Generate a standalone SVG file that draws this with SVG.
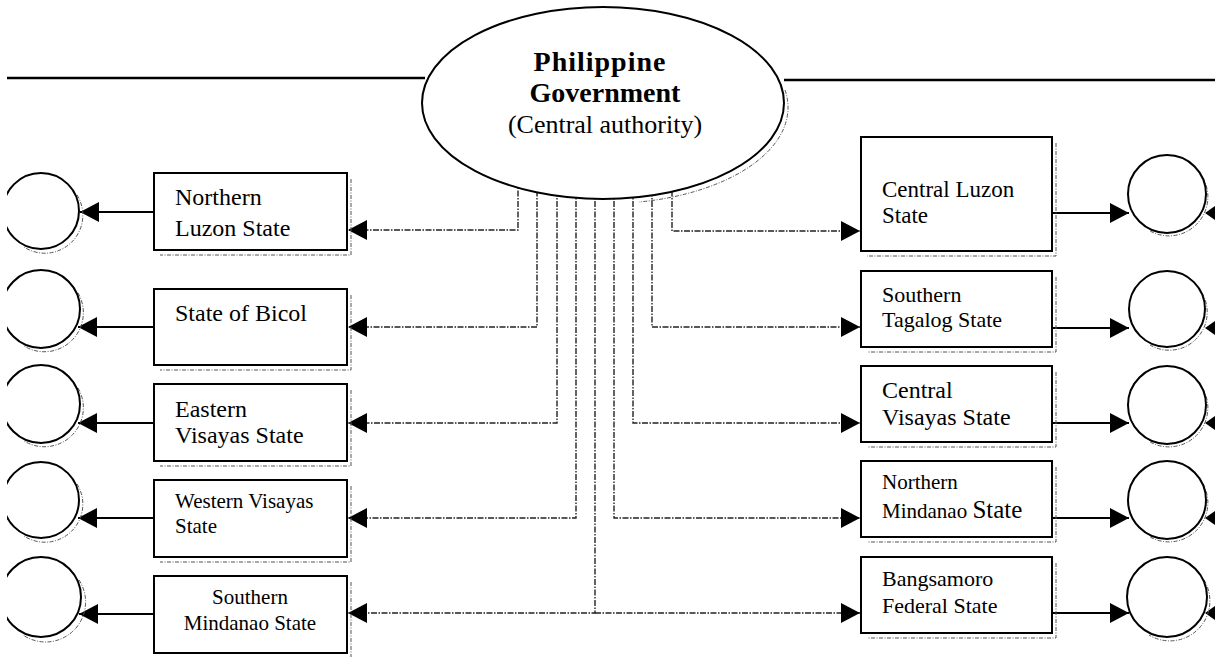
<svg xmlns="http://www.w3.org/2000/svg" width="1222" height="657" viewBox="0 0 1222 657">
  <defs>
    <marker id="head" viewBox="0 0 19 20" refX="19" refY="10" markerWidth="19" markerHeight="20" markerUnits="userSpaceOnUse" orient="auto">
      <path d="M0,0 L19,10 L0,20 Z" fill="#000"/>
    </marker>
    <clipPath id="page">
      <rect x="7" y="0" width="1208" height="657"/>
    </clipPath>
    <style>
      .box { fill: #fff; stroke: #000; stroke-width: 2; }
      .ring { fill: #fff; stroke: #000; stroke-width: 2; }
      .shade { fill: none; stroke: #555; stroke-width: 1; stroke-dasharray: 4 1.5 1 1.5; }
      .link { fill: none; stroke: #222; stroke-width: 1.4; stroke-dasharray: 6 1.5 1.5 1.5; }
      .out { fill: none; stroke: #000; stroke-width: 2; }
      .rule { fill: none; stroke: #000; stroke-width: 2.5; }
      .lbl { font-family: "Liberation Serif", "Times New Roman", serif; fill: #000; }
      .title { font-family: "Liberation Serif", "Times New Roman", serif; fill: #000; text-anchor: middle; }
    </style>
  </defs>

  <g clip-path="url(#page)">
    <!-- top rule either side of the central authority -->
    <g id="rule">
      <line class="rule" x1="7" y1="78" x2="425" y2="78"/>
      <line class="rule" x1="784" y1="80" x2="1215" y2="80"/>
    </g>

    <!-- dashed links from the central authority to each state -->
    <g id="connectors">
      <path class="link" d="M518,180 V230 H348" marker-end="url(#head)"/>
      <path class="link" d="M537,180 V327 H348" marker-end="url(#head)"/>
      <path class="link" d="M557,180 V423 H348" marker-end="url(#head)"/>
      <path class="link" d="M576,180 V518 H348" marker-end="url(#head)"/>
      <path class="link" d="M595,180 V613 H348" marker-end="url(#head)"/>
      <path class="link" d="M595,613 H860" marker-end="url(#head)"/>
      <path class="link" d="M614,180 V518 H860" marker-end="url(#head)"/>
      <path class="link" d="M633,180 V423 H860" marker-end="url(#head)"/>
      <path class="link" d="M652,180 V327 H860" marker-end="url(#head)"/>
      <path class="link" d="M672,180 V231 H860" marker-end="url(#head)"/>

      <!-- solid arrows from each state to its circle -->
      <path class="out" d="M154,212 H80" marker-end="url(#head)"/>
      <path class="out" d="M154,327 H78" marker-end="url(#head)"/>
      <path class="out" d="M154,423 H78" marker-end="url(#head)"/>
      <path class="out" d="M154,518 H78" marker-end="url(#head)"/>
      <path class="out" d="M154,614 H79" marker-end="url(#head)"/>
      <path class="out" d="M1052,213 H1129" marker-end="url(#head)"/>
      <path class="out" d="M1052,328 H1129" marker-end="url(#head)"/>
      <path class="out" d="M1052,423 H1129" marker-end="url(#head)"/>
      <path class="out" d="M1052,518 H1129" marker-end="url(#head)"/>
      <path class="out" d="M1052,613 H1129" marker-end="url(#head)"/>

      <!-- arrow tips entering the right-hand circles from beyond the edge -->
      <path d="M1205,213 L1215,206 L1215,220 Z" fill="#000"/>
      <path d="M1205,328 L1215,321 L1215,335 Z" fill="#000"/>
      <path d="M1205,423 L1215,416 L1215,430 Z" fill="#000"/>
      <path d="M1205,518 L1215,511 L1215,525 Z" fill="#000"/>
      <path d="M1205,613 L1215,606 L1215,620 Z" fill="#000"/>
    </g>

    <!-- central authority -->
    <g id="central">
      <path class="shade" d="M785,90 A181,96 0 0 1 639,202"/>
      <ellipse cx="603" cy="103" rx="181" ry="96" fill="#fff" stroke="#000" stroke-width="2"/>
      <text class="title" x="600" y="71" font-size="28" font-weight="bold" letter-spacing="1">Philippine</text>
      <text class="title" x="605" y="102" font-size="28" font-weight="bold">Government</text>
      <text class="title" x="605" y="133" font-size="26">(Central authority)</text>
    </g>

    <!-- left-hand states -->
    <g id="northern-luzon">
      <path class="shade" d="M351,179 V255 H160"/>
      <rect class="box" x="154" y="173" width="193" height="77"/>
      <text class="lbl" x="175" y="205" font-size="24">Northern</text>
      <text class="lbl" x="175" y="236" font-size="24">Luzon State</text>
    </g>
    <g id="bicol">
      <path class="shade" d="M351,295 V370 H160"/>
      <rect class="box" x="154" y="289" width="193" height="76"/>
      <text class="lbl" x="175" y="321" font-size="24">State of Bicol</text>
    </g>
    <g id="eastern-visayas">
      <path class="shade" d="M351,390 V466 H160"/>
      <rect class="box" x="154" y="384" width="193" height="77"/>
      <text class="lbl" x="175" y="417" font-size="24">Eastern</text>
      <text class="lbl" x="175" y="443" font-size="24">Visayas State</text>
    </g>
    <g id="western-visayas">
      <path class="shade" d="M351,486 V562 H160"/>
      <rect class="box" x="154" y="480" width="193" height="77"/>
      <text class="lbl" x="175" y="508" font-size="21">Western Visayas</text>
      <text class="lbl" x="175" y="533" font-size="21">State</text>
    </g>
    <g id="southern-mindanao">
      <path class="shade" d="M351,582 V658 H160"/>
      <rect class="box" x="154" y="576" width="193" height="77"/>
      <text class="lbl" x="250" y="604" font-size="21" text-anchor="middle">Southern</text>
      <text class="lbl" x="250" y="630" font-size="21" text-anchor="middle">Mindanao State</text>
    </g>

    <!-- right-hand states -->
    <g id="central-luzon">
      <path class="shade" d="M1056,143 V256 H867"/>
      <rect class="box" x="861" y="137" width="191" height="114"/>
      <text class="lbl" x="882" y="197" font-size="23">Central Luzon</text>
      <text class="lbl" x="882" y="223" font-size="23">State</text>
    </g>
    <g id="southern-tagalog">
      <path class="shade" d="M1056,277 V352 H867"/>
      <rect class="box" x="861" y="271" width="191" height="76"/>
      <text class="lbl" x="882" y="302" font-size="22">Southern</text>
      <text class="lbl" x="882" y="327" font-size="22">Tagalog State</text>
    </g>
    <g id="central-visayas">
      <path class="shade" d="M1056,372 V447 H867"/>
      <rect class="box" x="861" y="366" width="191" height="76"/>
      <text class="lbl" x="882" y="398" font-size="24">Central</text>
      <text class="lbl" x="882" y="425" font-size="24">Visayas State</text>
    </g>
    <g id="northern-mindanao">
      <path class="shade" d="M1056,467 V542 H867"/>
      <rect class="box" x="861" y="461" width="191" height="76"/>
      <text class="lbl" x="882" y="489" font-size="21">Northern</text>
      <text class="lbl" x="882" y="518" font-size="21">Mindanao <tspan font-size="25">State</tspan></text>
    </g>
    <g id="bangsamoro">
      <path class="shade" d="M1056,563 V638 H867"/>
      <rect class="box" x="861" y="557" width="191" height="76"/>
      <text class="lbl" x="882" y="586" font-size="22">Bangsamoro</text>
      <text class="lbl" x="882" y="613" font-size="22">Federal State</text>
    </g>

    <!-- left-hand circles -->
    <g id="circle-l1">
      <path class="shade" d="M77,195 A38,38 0 0 1 24,247"/>
      <circle class="ring" cx="41" cy="211" r="38"/>
    </g>
    <g id="circle-l2">
      <path class="shade" d="M78,293 A39,39 0 0 1 24,346"/>
      <circle class="ring" cx="41" cy="309" r="39"/>
    </g>
    <g id="circle-l3">
      <path class="shade" d="M78,388 A39,39 0 0 1 24,441"/>
      <circle class="ring" cx="41" cy="404" r="39"/>
    </g>
    <g id="circle-l4">
      <path class="shade" d="M77,484 A38,38 0 0 1 24,536"/>
      <circle class="ring" cx="41" cy="500" r="38"/>
    </g>
    <g id="circle-l5">
      <path class="shade" d="M79,580 A40,40 0 0 1 23,635"/>
      <circle class="ring" cx="41" cy="597" r="40"/>
    </g>

    <!-- right-hand circles -->
    <g id="circle-r1">
      <path class="shade" d="M1203,178 A39,39 0 0 1 1150,231"/>
      <circle class="ring" cx="1167" cy="194" r="39"/>
    </g>
    <g id="circle-r2">
      <path class="shade" d="M1202,293 A38,38 0 0 1 1150,345"/>
      <circle class="ring" cx="1167" cy="309" r="38"/>
    </g>
    <g id="circle-r3">
      <path class="shade" d="M1203,389 A39,39 0 0 1 1150,442"/>
      <circle class="ring" cx="1167" cy="405" r="39"/>
    </g>
    <g id="circle-r4">
      <path class="shade" d="M1203,484 A39,39 0 0 1 1150,537"/>
      <circle class="ring" cx="1167" cy="500" r="39"/>
    </g>
    <g id="circle-r5">
      <path class="shade" d="M1204,580 A40,40 0 0 1 1149,635"/>
      <circle class="ring" cx="1167" cy="597" r="40"/>
    </g>
  </g>
</svg>
